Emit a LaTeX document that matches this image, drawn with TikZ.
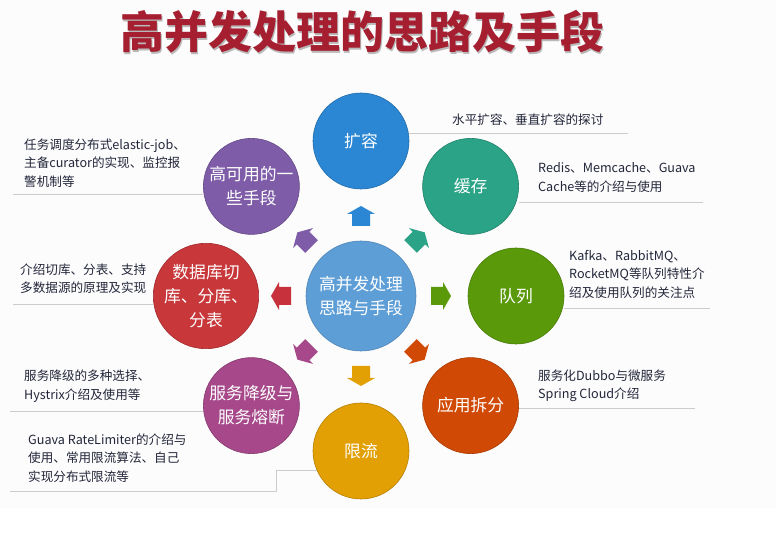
\documentclass[tikz,border=0pt]{standalone}
\usepackage{fontspec}
\newfontfamily\cjk{Noto Sans CJK SC}
\usepackage{tikz}
\usetikzlibrary{calc}

\definecolor{titlered}{HTML}{A51F30}
\definecolor{ink}{HTML}{23263A}
\definecolor{coreblue}{HTML}{5E9ED6}
\definecolor{kuoblue}{HTML}{2B87D3}
\definecolor{cacheteal}{HTML}{2AA386}
\definecolor{queuegreen}{HTML}{5A9A0A}
\definecolor{splitorange}{HTML}{D04A06}
\definecolor{limitamber}{HTML}{E2A005}
\definecolor{degrademag}{HTML}{A6488A}
\definecolor{dbred}{HTML}{C8373A}
\definecolor{hapurple}{HTML}{7E5CA8}

\begin{document}
\begin{tikzpicture}[x=1pt,y=1pt,
  bubble/.style={circle,minimum size=96pt,inner sep=0pt,align=center,text=white,
    font=\cjk\fontsize{16.8}{24}\selectfont,line width=0.6pt},
  desc/.style={anchor=west,align=left,inner sep=0pt,text=ink,
    font=\cjk\fontsize{12.6}{18.5}\selectfont},
  rule/.style={draw=gray!40,line width=0.8pt}]

\useasboundingbox (0,0) rectangle (776,545);
\fill[black!1] (0,37) rectangle (776,545);

% title
\node[text=gray!55,font=\cjk\bfseries\fontsize{44}{50}\selectfont] (shadow) at (363.2,511.8) {高并发处理的思路及手段};
\node[text=titlered,font=\cjk\bfseries\fontsize{44}{50}\selectfont] (title) at (362,513) {高并发处理的思路及手段};

% centre and ring
\node[bubble,fill=coreblue,draw=coreblue!85!black,minimum size=110pt] (core) at (361,249) {高并发处理\\思路与手段};

\foreach \n/\a/\c/\t in {kuorong/90/kuoblue/扩容, huancun/45/cacheteal/缓存,
  duilie/0/queuegreen/队列, chaifen/-45/splitorange/应用拆分,
  xianliu/-90/limitamber/限流, jiangji/-135/degrademag/{服务降级与\\服务熔断},
  fenku/180/dbred/{数据库切\\库、分库、\\分表}, gaoky/135/hapurple/{高可用的一\\些手段}}
  \node[bubble,fill=\c,draw=\c!80!black] (\n) at ($(core)+(\a:155)$) {\t};

\foreach \a/\c in {90/kuoblue, 45/cacheteal, 0/queuegreen, -45/splitorange,
  -90/limitamber, -135/degrademag, 180/dbred!90!purple, 135/hapurple}
  \fill[\c,shift={($(core)+(\a:80)$)},rotate=\a]
    (-10,-9) -- (2,-9) -- (2,-14) -- (10,0) -- (2,14) -- (2,9) -- (-10,9) -- cycle;

% notes
\node[desc] (kuorongtxt) at (452,425) {水平扩容、垂直扩容的探讨};
\node[desc] (huancuntxt) at (538,367.5) {Redis、Memcache、Guava\\Cache等的介绍与使用};
\node[desc] (duilietxt) at (569,271) {Kafka、RabbitMQ、\\RocketMQ等队列特性介\\绍及使用队列的关注点};
\node[desc] (chaifentxt) at (538,159) {服务化Dubbo与微服务\\Spring Cloud介绍};
\node[desc] (gaokytxt) at (24,382) {任务调度分布式elastic-job、\\主备curator的实现、监控报\\警机制等};
\node[desc] (fenkutxt) at (20,266.5) {介绍切库、分表、支持\\多数据源的原理及实现};
\node[desc] (jiangjitxt) at (24,159) {服务降级的多种选择、\\Hystrix介绍及使用等};
\node[desc] (xianliutxt) at (28,87) {Guava RateLimiter的介绍与\\使用、常用限流算法、自己\\实现分布式限流等};

\coordinate (k1) at (628,412);
\coordinate (h1) at (703,343);
\coordinate (d1) at (710,237);
\coordinate (c1) at (695,137);
\coordinate (g1) at (13,351);
\coordinate (f1) at (13,241);
\coordinate (j1) at (10,134);
\coordinate (x1) at (10,54);
\coordinate (x2) at (276,75);

\draw[rule] (kuorong.east |- k1) -- (k1);
\draw[rule] (huancun.east |- h1) -- (h1);
\draw[rule] (duilie.east |- d1) -- (d1);
\draw[rule] (chaifen.east |- c1) -- (c1);
\draw[rule] (g1) -- (gaoky.west |- g1);
\draw[rule] (f1) -- (fenku.west |- f1);
\draw[rule] (j1) -- (jiangji.west |- j1);
\draw[rule] (x1) -| (x2) -- (xianliu.204 |- x2);

\end{tikzpicture}
\end{document}
